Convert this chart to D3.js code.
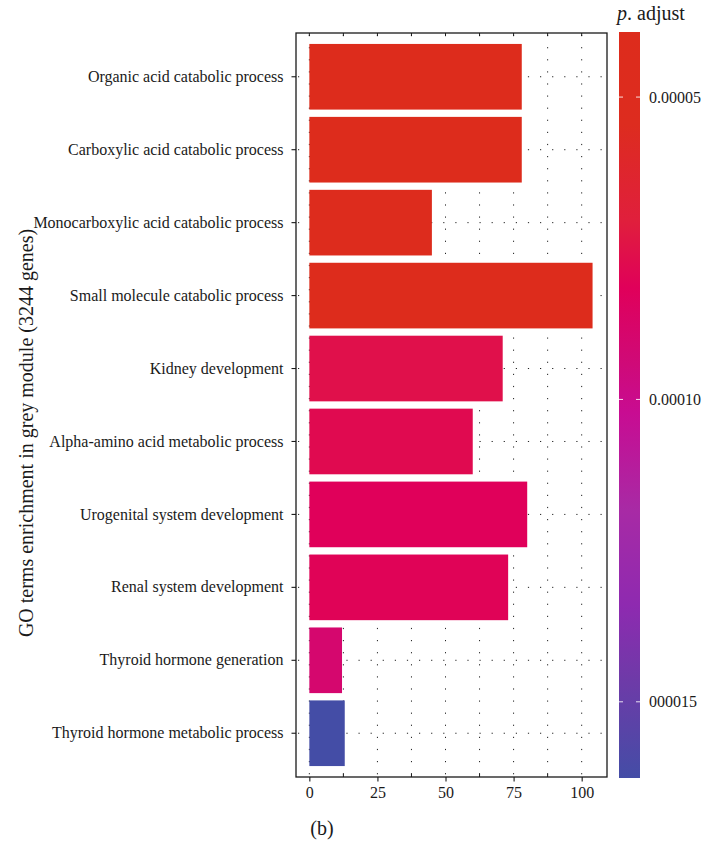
<!DOCTYPE html>
<html><head><meta charset="utf-8">
<script src="https://cdn.jsdelivr.net/npm/d3@7"></script>
<style>
html,body{margin:0;padding:0;background:#fff;}
svg{display:block;}
text{font-family:"Liberation Serif","Times New Roman",serif;fill:#1a1a1a;}
</style></head>
<body>
<svg id="chart" width="706" height="844"></svg>
<script>
const categories = [
  "Organic acid catabolic process",
  "Carboxylic acid catabolic process",
  "Monocarboxylic acid catabolic process",
  "Small molecule catabolic process",
  "Kidney development",
  "Alpha-amino acid metabolic process",
  "Urogenital system development",
  "Renal system development",
  "Thyroid hormone generation",
  "Thyroid hormone metabolic process"
];
const counts = [78, 78, 45, 104, 71, 60, 80, 73, 12, 13];
const pAdjust = [4.0e-5, 4.0e-5, 4.2e-5, 3.95e-5, 7.6e-5, 7.8e-5, 8.15e-5, 8.05e-5, 9.0e-5, 1.626e-4];
const xTicks = [0, 25, 50, 75, 100];
const xMinorTicks = [12.5, 37.5, 62.5, 87.5];
const legendTicks = [5e-5, 1e-4, 1.5e-4];
const legendTickLabels = ["0.00005", "0.00010", "000015"];
const colorStopValues = [3.924e-5, 5.45e-5, 7.04e-5, 8.16e-5, 9.42e-5, 1.022e-4, 1.182e-4, 1.341e-4, 1.46e-4, 1.626e-4];
const colorStopColors = ["#dd2c1c", "#dd2c1f", "#e01f3c", "#e0005a", "#cf0a78", "#c80c92", "#a82aa5", "#8e2ab0", "#6f3aa8", "#444da6"];
const yTitle = "GO terms enrichment in grey module (3244 genes)";
const panelLabel = "(b)";

const svg = d3.select("#chart");
const panel = {left: 296, right: 607, top: 33, bottom: 777};

const x = d3.scaleLinear().domain([-4.9, 109.3]).range([panel.left, panel.right]);
const y = d3.scaleBand().domain(categories).range([panel.top, panel.bottom])
  .paddingInner(0.1).paddingOuter(0.15);
const color = d3.scaleLinear().domain(colorStopValues).range(colorStopColors)
  .interpolate(d3.interpolateRgb).clamp(true);

const g = svg.append("g");

// grid (dotted)
const gridX = xTicks.concat(xMinorTicks);
g.selectAll("line.gx").data(gridX).join("line")
  .attr("class", "gx")
  .attr("x1", d => x(d)).attr("x2", d => x(d))
  .attr("y1", panel.top + 2).attr("y2", panel.bottom)
  .attr("stroke", "#222").attr("stroke-width", 1)
  .attr("stroke-dasharray", "1.2,10.9");
g.selectAll("line.gy").data(categories).join("line")
  .attr("class", "gy")
  .attr("x1", panel.left + 2).attr("x2", panel.right)
  .attr("y1", d => y(d) + y.bandwidth() / 2).attr("y2", d => y(d) + y.bandwidth() / 2)
  .attr("stroke", "#222").attr("stroke-width", 1)
  .attr("stroke-dasharray", "1.2,10.9");

// bars
g.selectAll("rect.bar").data(categories).join("rect")
  .attr("class", "bar")
  .attr("x", x(0))
  .attr("y", d => y(d))
  .attr("width", (d, i) => x(counts[i]) - x(0))
  .attr("height", y.bandwidth())
  .attr("fill", (d, i) => color(pAdjust[i]));

// panel border
g.append("rect")
  .attr("x", panel.left).attr("y", panel.top)
  .attr("width", panel.right - panel.left).attr("height", panel.bottom - panel.top)
  .attr("fill", "none").attr("stroke", "#1a1a1a").attr("stroke-width", 1.3);

// inner ticks at top and bottom minor
g.selectAll("line.tt").data(gridX).join("line")
  .attr("x1", d => x(d)).attr("x2", d => x(d))
  .attr("y1", panel.top).attr("y2", panel.top + 3)
  .attr("stroke", "#1a1a1a").attr("stroke-width", 1);
g.selectAll("line.bm").data(xMinorTicks).join("line")
  .attr("x1", d => x(d)).attr("x2", d => x(d))
  .attr("y1", panel.bottom).attr("y2", panel.bottom - 3)
  .attr("stroke", "#1a1a1a").attr("stroke-width", 1);

// x axis
const xAxis = d3.axisBottom(x).tickValues(xTicks).tickSize(4.5).tickPadding(5)
  .tickFormat(d3.format("d"));
const xg = svg.append("g").attr("transform", `translate(0,${panel.bottom})`).call(xAxis);
xg.select(".domain").remove();
xg.selectAll("line").attr("stroke", "#1a1a1a").attr("stroke-width", 1.1);
xg.selectAll("text").style("font-size", "16px").style("font-family", "'Liberation Serif', serif").attr("fill", "#1a1a1a");

// y axis
const yAxis = d3.axisLeft(y).tickSize(4.5).tickPadding(8);
const yg = svg.append("g").attr("transform", `translate(${panel.left},0)`).call(yAxis);
yg.select(".domain").remove();
yg.selectAll("line").attr("stroke", "#1a1a1a").attr("stroke-width", 1.1);
yg.selectAll("text").style("font-size", "16px").style("font-family", "'Liberation Serif', serif").attr("fill", "#1a1a1a");

// y title
svg.append("text")
  .attr("transform", "translate(33,433) rotate(-90)")
  .attr("text-anchor", "middle")
  .style("font-size", "20px")
  .text(yTitle);

// panel label
svg.append("text")
  .attr("x", 322).attr("y", 835)
  .attr("text-anchor", "middle")
  .style("font-size", "20px")
  .text(panelLabel);

// colorbar
const cb = {x: 619, w: 21, top: 32, bottom: 778};
const cScale = d3.scaleLinear().domain([colorStopValues[0], colorStopValues[colorStopValues.length - 1]])
  .range([cb.top, cb.bottom]);
const defs = svg.append("defs");
const grad = defs.append("linearGradient").attr("id", "cbgrad")
  .attr("x1", 0).attr("y1", 0).attr("x2", 0).attr("y2", 1);
grad.selectAll("stop").data(colorStopValues).join("stop")
  .attr("offset", d => (cScale(d) - cb.top) / (cb.bottom - cb.top))
  .attr("stop-color", (d, i) => colorStopColors[i]);
svg.append("rect")
  .attr("x", cb.x).attr("y", cb.top).attr("width", cb.w).attr("height", cb.bottom - cb.top)
  .attr("fill", "url(#cbgrad)");
legendTicks.forEach((t, i) => {
  const yy = cScale(t);
  svg.append("line").attr("x1", cb.x).attr("x2", cb.x + 4).attr("y1", yy).attr("y2", yy)
    .attr("stroke", "#fff").attr("stroke-opacity", 0.85).attr("stroke-width", 1);
  svg.append("line").attr("x1", cb.x + cb.w - 4).attr("x2", cb.x + cb.w).attr("y1", yy).attr("y2", yy)
    .attr("stroke", "#fff").attr("stroke-opacity", 0.85).attr("stroke-width", 1);
  svg.append("text").attr("x", 649).attr("y", yy).attr("dy", "0.35em")
    .style("font-size", "16px").text(legendTickLabels[i]);
});
const lt = svg.append("text").attr("x", 617).attr("y", 20).style("font-size", "20px");
lt.append("tspan").style("font-style", "italic").text("p");
lt.append("tspan").text(". adjust");
</script>
</body></html>
